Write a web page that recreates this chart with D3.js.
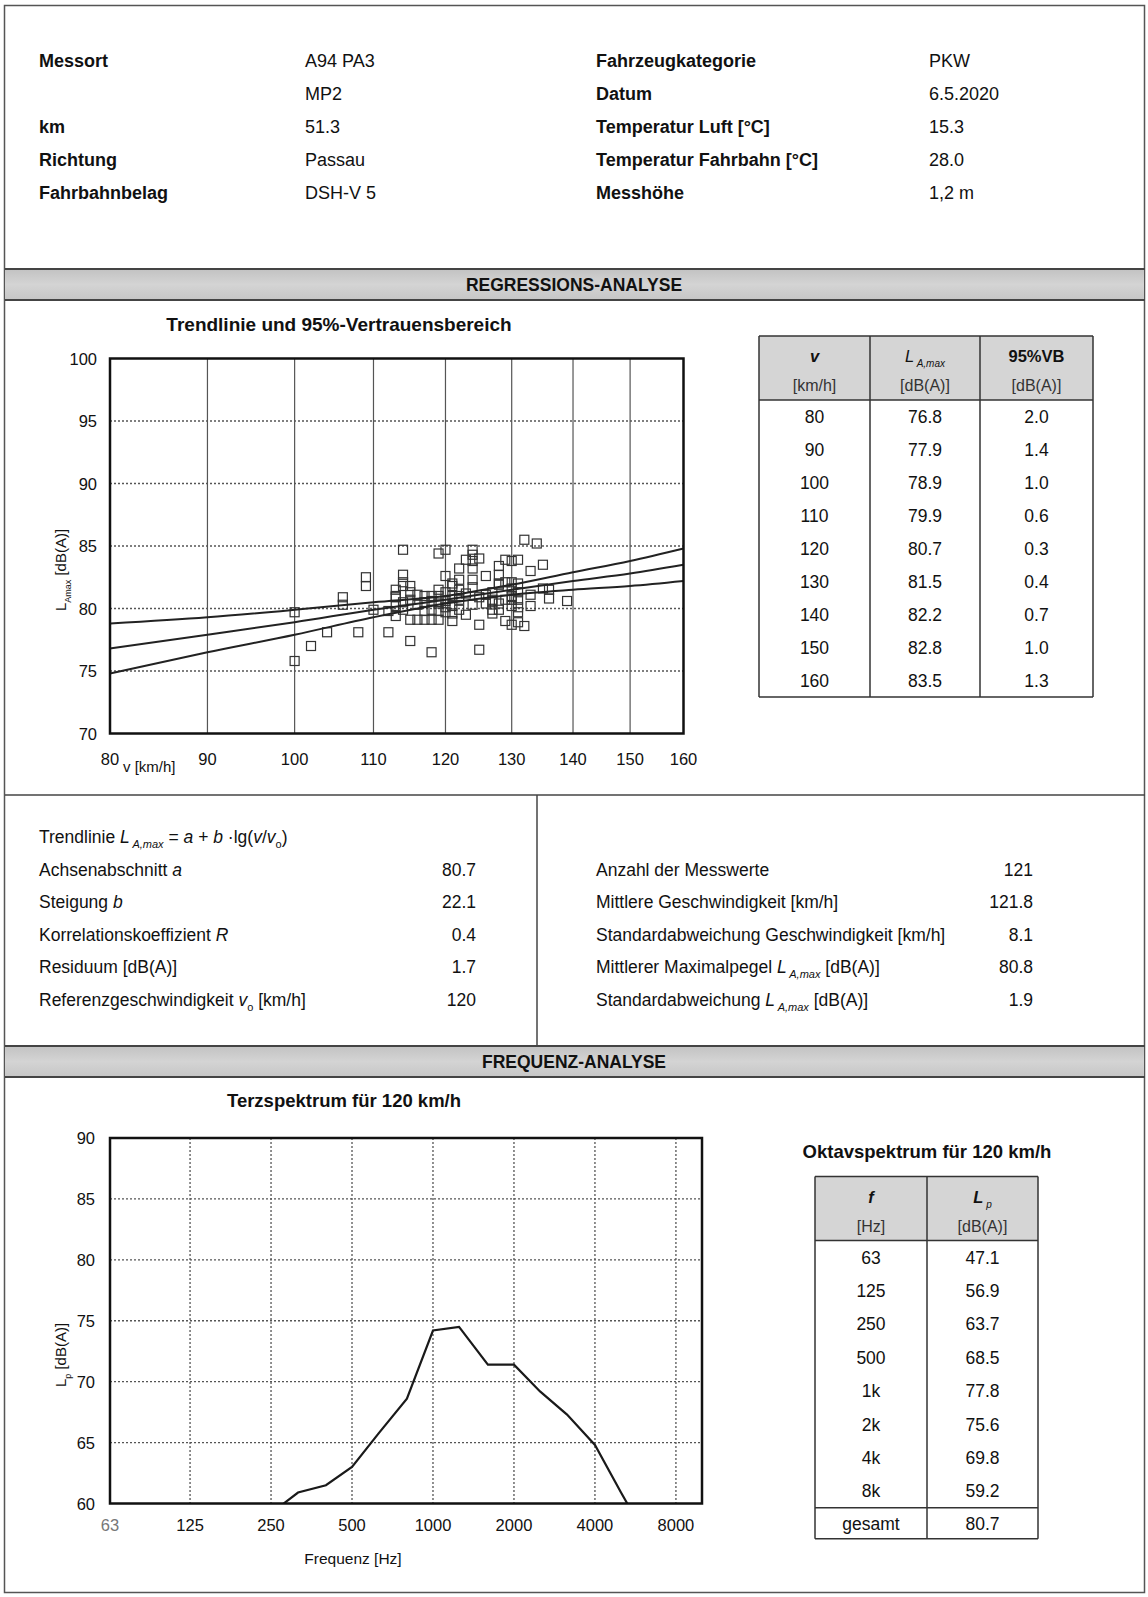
<!DOCTYPE html>
<html>
<head>
<meta charset="utf-8">
<script src="https://cdn.jsdelivr.net/npm/d3@7"></script>
<style>
body { margin: 0; background: #fff; }
svg text { font-family: "Liberation Sans", Arial, sans-serif; fill: #111; }
</style>
</head>
<body>
<div id="sheet"></div>
<script>
// header block
var infoLeftLabels = ["Messort", "", "km", "Richtung", "Fahrbahnbelag"];
var infoLeftValues = ["A94 PA3", "MP2", "51.3", "Passau", "DSH-V 5"];
var infoRightLabels = ["Fahrzeugkategorie", "Datum", "Temperatur Luft [°C]", "Temperatur Fahrbahn [°C]", "Messhöhe"];
var infoRightValues = ["PKW", "6.5.2020", "15.3", "28.0", "1,2 m"];

// single pass-bys (speed km/h, level dB(A))
var speeds = [100, 100, 102, 104, 106, 106, 108, 109, 109, 110,
  112, 112, 113, 113, 113, 113, 113, 114, 114, 114, 114, 114, 114,
  115, 115, 115, 115, 115, 116, 116, 116, 117, 117, 117, 117,
  118, 118, 118, 118, 118, 119, 119, 119, 119, 119, 119,
  120, 120, 120, 120, 120, 120, 121, 121, 121, 121, 121, 121,
  122, 122, 122, 122, 122, 122, 123, 123, 123,
  124, 124, 124, 124, 124, 124, 124, 125, 125, 125, 125, 126, 126, 126,
  127, 127, 127, 127, 127, 128, 128, 128, 128, 128, 128,
  129, 129, 129, 129, 130, 130, 130, 130, 130, 130, 130,
  131, 131, 131, 131, 131, 131, 131, 132, 132, 133, 133, 133, 134,
  135, 135, 136, 136, 139];
var levels = [79.7, 75.8, 77.0, 78.1, 80.9, 80.3, 78.1, 82.5, 81.8, 79.9,
  78.1, 79.8, 81.5, 81.0, 79.4, 80.2, 80.9, 84.7, 82.7, 82.1, 81.8, 80.5, 79.9,
  81.8, 80.7, 79.1, 77.4, 81.3, 81.1, 79.1, 80.3, 79.1, 80.5, 81.0, 79.8,
  76.5, 81.0, 79.9, 79.1, 80.6, 84.4, 81.0, 79.8, 79.1, 80.4, 81.5,
  84.7, 82.6, 81.3, 80.6, 79.7, 80.1, 81.8, 81.0, 80.2, 79.0, 82.0, 79.6,
  83.2, 82.3, 81.5, 80.7, 79.9, 81.0, 83.9, 79.5, 81.2,
  84.7, 84.3, 83.8, 83.2, 82.3, 80.3, 81.7, 84.0, 78.7, 76.7, 80.9, 82.6, 80.4, 81.1,
  80.7, 79.9, 79.6, 80.5, 81.3, 83.4, 82.7, 81.9, 80.4, 82.0, 79.9,
  83.9, 79.0, 82.1, 80.7, 83.8, 82.1, 81.0, 80.2, 80.7, 78.7, 81.6,
  83.9, 82.0, 81.3, 79.7, 78.9, 80.1, 80.7, 85.5, 78.6, 83.0, 81.1, 80.2, 85.2,
  83.5, 81.6, 80.8, 81.5, 80.6];

// regression table
var tableSpeeds = [80, 90, 100, 110, 120, 130, 140, 150, 160];
var tableLevels = [76.8, 77.9, 78.9, 79.9, 80.7, 81.5, 82.2, 82.8, 83.5];
var tableConf = [2.0, 1.4, 1.0, 0.6, 0.3, 0.4, 0.7, 1.0, 1.3];

var speedTicks = [80, 90, 100, 110, 120, 130, 140, 150, 160];
var levelTicks = [70, 75, 80, 85, 90, 95, 100];

// regression statistics
var statsLeftValues = ["80.7", "22.1", "0.4", "1.7", "120"];
var statsRightLabels = ["Anzahl der Messwerte", "Mittlere Geschwindigkeit [km/h]", "Standardabweichung Geschwindigkeit [km/h]"];
var statsRightValues = ["121", "121.8", "8.1", "80.8", "1.9"];

// third-octave spectrum at 120 km/h
var terzFreqs = [250, 315, 400, 500, 630, 800, 1000, 1250, 1600, 2000, 2500, 3150, 4000, 5000, 6300];
var terzLevels = [59.2, 60.9, 61.5, 63.0, 65.8, 68.6, 74.2, 74.5, 71.4, 71.4, 69.2, 67.3, 64.8, 60.9, 57.0];
var freqTicks = [63, 125, 250, 500, 1000, 2000, 4000, 8000];
var lpTicks = [60, 65, 70, 75, 80, 85, 90];

// octave spectrum
var octBands = ["63", "125", "250", "500", "1k", "2k", "4k", "8k"];
var octLevels = ["47.1", "56.9", "63.7", "68.5", "77.8", "75.6", "69.8", "59.2"];
var octTotal = "80.7";

var W = 1148, H = 1597;
var FS = 17.5;   // body text
var TK = 16.5;   // tick labels
var svg = d3.select("#sheet").append("svg")
  .attr("width", W)
  .attr("height", H);

// writes a text made of pieces: {t, i (italic), sub, b (bold)}
function rich(g, x, y, parts, size, anchor) {
  var t = g.append("text").attr("x", x).attr("y", y)
    .style("font-size", size + "px")
    .attr("text-anchor", anchor || "start");
  var shift = 0;
  parts.forEach(function(p) {
    var ts = t.append("tspan").text(p.t);
    var want = p.sub ? Math.round(size * 0.3) : 0;
    if (want != shift) { ts.attr("dy", want - shift); shift = want; }
    if (p.i) ts.style("font-style", "italic");
    if (p.b) ts.style("font-weight", "bold");
    if (p.sub) ts.style("font-size", Math.round(size * 0.62) + "px");
  });
  return t;
}

// page frame
svg.append("rect").attr("x", 4.5).attr("y", 5.5).attr("width", 1140).attr("height", 1587)
  .attr("fill", "none").attr("stroke", "#555").attr("stroke-width", 1.5);

// ---- header ----
var head = svg.append("g");
var rowY = d3.range(5).map(function(i) { return 66.5 + i * 33.1; });
head.selectAll(".l1").data(infoLeftLabels).enter().append("text")
  .attr("x", 39).attr("y", function(d, i) { return rowY[i]; })
  .style("font-size", "18px").style("font-weight", "bold").text(function(d) { return d; });
head.selectAll(".v1").data(infoLeftValues).enter().append("text")
  .attr("x", 305).attr("y", function(d, i) { return rowY[i]; })
  .style("font-size", "18px").text(function(d) { return d; });
head.selectAll(".l2").data(infoRightLabels).enter().append("text")
  .attr("x", 596).attr("y", function(d, i) { return rowY[i]; })
  .style("font-size", "18px").style("font-weight", "bold").text(function(d) { return d; });
head.selectAll(".v2").data(infoRightValues).enter().append("text")
  .attr("x", 929).attr("y", function(d, i) { return rowY[i]; })
  .style("font-size", "18px").text(function(d) { return d; });

// gray section bars
var grad = svg.append("defs").append("linearGradient").attr("id", "bar")
  .attr("x1", 0).attr("x2", 0).attr("y1", 0).attr("y2", 1);
grad.append("stop").attr("offset", "0%").attr("stop-color", "#c2c2c2");
grad.append("stop").attr("offset", "50%").attr("stop-color", "#d4d4d4");
grad.append("stop").attr("offset", "100%").attr("stop-color", "#c6c6c6");

function sectionBar(y0, y1, label) {
  svg.append("rect").attr("x", 5).attr("y", y0).attr("width", 1139).attr("height", y1 - y0)
    .attr("fill", "url(#bar)");
  svg.append("line").attr("x1", 5).attr("x2", 1145).attr("y1", y0).attr("y2", y0)
    .attr("stroke", "#444").attr("stroke-width", 2);
  svg.append("line").attr("x1", 5).attr("x2", 1145).attr("y1", y1).attr("y2", y1)
    .attr("stroke", "#444").attr("stroke-width", 2);
  svg.append("text").attr("x", 574).attr("y", (y0 + y1) / 2 + 6)
    .attr("text-anchor", "middle").style("font-size", "17.5px").style("font-weight", "bold")
    .text(label);
}
sectionBar(269, 300, "REGRESSIONS-ANALYSE");
sectionBar(1046, 1077, "FREQUENZ-ANALYSE");

// ---- scatter with trend line ----
var sx = d3.scaleLog().domain([80, 160]).range([110, 683.5]);
var sy = d3.scaleLinear().domain([70, 100]).range([733.5, 358.5]);

svg.append("text").attr("x", 339).attr("y", 331).attr("text-anchor", "middle")
  .style("font-size", "19px").style("font-weight", "bold")
  .text("Trendlinie und 95%-Vertrauensbereich");

var sc = svg.append("g");
sc.selectAll(".vg").data(speedTicks.slice(1, -1)).enter().append("line")
  .attr("x1", function(d) { return sx(d); }).attr("x2", function(d) { return sx(d); })
  .attr("y1", sy(100)).attr("y2", sy(70))
  .attr("stroke", "#555").attr("stroke-width", 1.2);
sc.selectAll(".hg").data(levelTicks.slice(1, -1)).enter().append("line")
  .attr("x1", sx(80)).attr("x2", sx(160))
  .attr("y1", function(d) { return sy(d); }).attr("y2", function(d) { return sy(d); })
  .attr("stroke", "#555").attr("stroke-width", 1.3).attr("stroke-dasharray", "2,2");

// measured points as open squares
var pts = speeds.map(function(v, i) { return { v: v, l: levels[i] }; });
sc.selectAll(".pt").data(pts).enter().append("rect")
  .attr("x", function(d) { return sx(d.v) - 4.5; })
  .attr("y", function(d) { return sy(d.l) - 4.5; })
  .attr("width", 9).attr("height", 9)
  .attr("fill", "none").attr("stroke", "#333").attr("stroke-width", 1.2);

// trend line and 95% band
var rows = tableSpeeds.map(function(v, i) { return { v: v, l: tableLevels[i], c: tableConf[i] }; });
var trendSets = [
  function(d) { return d.l + d.c; },
  function(d) { return d.l; },
  function(d) { return d.l - d.c; }
];
trendSets.forEach(function(f) {
  sc.append("path").datum(rows)
    .attr("d", d3.line().x(function(d) { return sx(d.v); }).y(function(d) { return sy(f(d)); })
      .curve(d3.curveMonotoneX))
    .attr("fill", "none").attr("stroke", "#222").attr("stroke-width", 2);
});

sc.append("rect").attr("x", sx(80)).attr("y", sy(100))
  .attr("width", sx(160) - sx(80)).attr("height", sy(70) - sy(100))
  .attr("fill", "none").attr("stroke", "#111").attr("stroke-width", 2.5);

sc.selectAll(".yt").data(levelTicks).enter().append("text")
  .attr("x", 97).attr("y", function(d) { return sy(d) + 6; })
  .attr("text-anchor", "end").style("font-size", TK + "px").text(function(d) { return d; });
sc.selectAll(".xt").data(speedTicks).enter().append("text")
  .attr("x", function(d) { return sx(d); }).attr("y", 765)
  .attr("text-anchor", "middle").style("font-size", TK + "px").text(function(d) { return d; });
sc.append("text").attr("x", 123).attr("y", 772).style("font-size", "15px").text("v [km/h]");

var ylab = sc.append("g").attr("transform", "translate(66,570) rotate(-90)");
rich(ylab, 0, 0, [{ t: "L" }, { t: "Amax", sub: true }, { t: " [dB(A)]" }], 15, "middle");

// regression table
var t1 = svg.append("g");
var t1x = [759, 870, 980, 1093];
var t1Top = 336, t1Head = 400, t1Row = 33;
t1.append("rect").attr("x", t1x[0]).attr("y", t1Top).attr("width", t1x[3] - t1x[0])
  .attr("height", t1Head - t1Top).attr("fill", "#d5d5d5");
var t1Mid = function(c) { return (t1x[c] + t1x[c + 1]) / 2; };
rich(t1, t1Mid(0), 362, [{ t: "v", i: true, b: true }], 16.5, "middle");
rich(t1, t1Mid(1), 362, [{ t: "L", i: true }, { t: " A,max", i: true, sub: true }], 16.5, "middle");
rich(t1, t1Mid(2), 362, [{ t: "95%VB", b: true }], 16.5, "middle");
["[km/h]", "[dB(A)]", "[dB(A)]"].forEach(function(s, c) {
  t1.append("text").attr("x", t1Mid(c)).attr("y", 391).attr("text-anchor", "middle")
    .style("font-size", "16px").style("fill", "#333").text(s);
});
var t1Cols = [tableSpeeds.map(String), tableLevels.map(function(d) { return d.toFixed(1); }),
  tableConf.map(function(d) { return d.toFixed(1); })];
t1Cols.forEach(function(col, c) {
  t1.selectAll(".c" + c).data(col).enter().append("text")
    .attr("x", t1Mid(c)).attr("y", function(d, i) { return t1Head + t1Row * i + 23; })
    .attr("text-anchor", "middle").style("font-size", FS + "px").text(function(d) { return d; });
});
var t1Bottom = t1Head + t1Row * tableSpeeds.length;
t1x.forEach(function(x) {
  t1.append("line").attr("x1", x).attr("x2", x).attr("y1", t1Top).attr("y2", t1Bottom)
    .attr("stroke", "#333").attr("stroke-width", 1.5);
});
[t1Top, t1Head, t1Bottom].forEach(function(y) {
  t1.append("line").attr("x1", t1x[0]).attr("x2", t1x[3]).attr("y1", y).attr("y2", y)
    .attr("stroke", "#333").attr("stroke-width", 1.5);
});

// ---- statistics block ----
svg.append("line").attr("x1", 5).attr("x2", 1145).attr("y1", 795).attr("y2", 795)
  .attr("stroke", "#444").attr("stroke-width", 1.5);
svg.append("line").attr("x1", 537).attr("x2", 537).attr("y1", 795).attr("y2", 1046)
  .attr("stroke", "#444").attr("stroke-width", 1.5);

var st = svg.append("g");
var stY = d3.range(5).map(function(i) { return 876 + i * 32.4; });
rich(st, 39, 843, [{ t: "Trendlinie  " }, { t: "L", i: true }, { t: " A,max", i: true, sub: true },
  { t: " = " }, { t: "a", i: true }, { t: " + " }, { t: "b", i: true }, { t: " ·lg(" },
  { t: "v", i: true }, { t: "/" }, { t: "v", i: true }, { t: "o", sub: true }, { t: ")" }], FS);
var statsLeftLabels = [
  [{ t: "Achsenabschnitt " }, { t: "a", i: true }],
  [{ t: "Steigung " }, { t: "b", i: true }],
  [{ t: "Korrelationskoeffizient " }, { t: "R", i: true }],
  [{ t: "Residuum [dB(A)]" }],
  [{ t: "Referenzgeschwindigkeit " }, { t: "v", i: true }, { t: "o", sub: true }, { t: " [km/h]" }]
];
statsLeftLabels.forEach(function(p, i) { rich(st, 39, stY[i], p, FS); });
st.selectAll(".sv1").data(statsLeftValues).enter().append("text")
  .attr("x", 476).attr("y", function(d, i) { return stY[i]; })
  .attr("text-anchor", "end").style("font-size", FS + "px").text(function(d) { return d; });
var rightRich = statsRightLabels.map(function(s) { return [{ t: s }]; }).concat([
  [{ t: "Mittlerer Maximalpegel " }, { t: "L", i: true }, { t: " A,max", i: true, sub: true }, { t: "  [dB(A)]" }],
  [{ t: "Standardabweichung " }, { t: "L", i: true }, { t: " A,max", i: true, sub: true }, { t: "  [dB(A)]" }]
]);
rightRich.forEach(function(p, i) { rich(st, 596, stY[i], p, FS); });
st.selectAll(".sv2").data(statsRightValues).enter().append("text")
  .attr("x", 1033).attr("y", function(d, i) { return stY[i]; })
  .attr("text-anchor", "end").style("font-size", FS + "px").text(function(d) { return d; });

// ---- third-octave spectrum ----
var fx = d3.scaleLog().domain([63, 10000]).range([110, 702]);
var fy = d3.scaleLinear().domain([60, 90]).range([1503.5, 1138]);

svg.append("text").attr("x", 344).attr("y", 1107).attr("text-anchor", "middle")
  .style("font-size", "18.5px").style("font-weight", "bold").text("Terzspektrum für 120 km/h");

var fc = svg.append("g");
fc.selectAll(".vg").data(freqTicks.slice(1)).enter().append("line")
  .attr("x1", function(d) { return fx(d); }).attr("x2", function(d) { return fx(d); })
  .attr("y1", fy(90)).attr("y2", fy(60))
  .attr("stroke", "#555").attr("stroke-width", 1.3).attr("stroke-dasharray", "2,2");
fc.selectAll(".hg").data(lpTicks.slice(1, -1)).enter().append("line")
  .attr("x1", fx(63)).attr("x2", fx(10000))
  .attr("y1", function(d) { return fy(d); }).attr("y2", function(d) { return fy(d); })
  .attr("stroke", "#555").attr("stroke-width", 1.3).attr("stroke-dasharray", "2,2");

var clip = svg.select("defs").append("clipPath").attr("id", "fclip");
clip.append("rect").attr("x", fx(63)).attr("y", fy(90))
  .attr("width", fx(10000) - fx(63)).attr("height", fy(60) - fy(90));
var terz = terzFreqs.map(function(f, i) { return { f: f, l: terzLevels[i] }; });
fc.append("path").datum(terz).attr("clip-path", "url(#fclip)")
  .attr("d", d3.line().x(function(d) { return fx(d.f); }).y(function(d) { return fy(d.l); }))
  .attr("fill", "none").attr("stroke", "#1a1a1a").attr("stroke-width", 2.2);

fc.append("rect").attr("x", fx(63)).attr("y", fy(90))
  .attr("width", fx(10000) - fx(63)).attr("height", fy(60) - fy(90))
  .attr("fill", "none").attr("stroke", "#111").attr("stroke-width", 2.5);

fc.selectAll(".yt").data(lpTicks).enter().append("text")
  .attr("x", 95).attr("y", function(d) { return fy(d) + 6; })
  .attr("text-anchor", "end").style("font-size", TK + "px").text(function(d) { return d; });
fc.selectAll(".xt").data(freqTicks).enter().append("text")
  .attr("x", function(d) { return fx(d); }).attr("y", 1531)
  .attr("text-anchor", "middle").style("font-size", TK + "px")
  .style("fill", function(d) { return d == 63 ? "#777" : "#111"; })
  .text(function(d) { return d; });
fc.append("text").attr("x", 353).attr("y", 1564).attr("text-anchor", "middle")
  .style("font-size", "15.5px").text("Frequenz [Hz]");
var flab = fc.append("g").attr("transform", "translate(66,1355) rotate(-90)");
rich(flab, 0, 0, [{ t: "L" }, { t: "p", sub: true }, { t: " [dB(A)]" }], 15, "middle");

// ---- octave table ----
svg.append("text").attr("x", 927).attr("y", 1158).attr("text-anchor", "middle")
  .style("font-size", "18.5px").style("font-weight", "bold").text("Oktavspektrum für 120 km/h");

var t2 = svg.append("g");
var t2x = [815, 927, 1038];
var t2Top = 1176.5, t2Head = 1240.5, t2Row = 33.4;
var t2Sum = t2Head + t2Row * octBands.length, t2Bottom = t2Sum + 31;
t2.append("rect").attr("x", t2x[0]).attr("y", t2Top).attr("width", t2x[2] - t2x[0])
  .attr("height", t2Head - t2Top).attr("fill", "#d5d5d5");
var t2Mid = function(c) { return (t2x[c] + t2x[c + 1]) / 2; };
rich(t2, t2Mid(0), 1203, [{ t: "f", i: true, b: true }], 16.5, "middle");
rich(t2, t2Mid(1), 1203, [{ t: "L", i: true, b: true }, { t: " p", i: true, sub: true }], 16.5, "middle");
["[Hz]", "[dB(A)]"].forEach(function(s, c) {
  t2.append("text").attr("x", t2Mid(c)).attr("y", 1232).attr("text-anchor", "middle")
    .style("font-size", "16px").style("fill", "#333").text(s);
});
[octBands, octLevels].forEach(function(col, c) {
  t2.selectAll(".c" + c).data(col).enter().append("text")
    .attr("x", t2Mid(c)).attr("y", function(d, i) { return t2Head + t2Row * i + 23; })
    .attr("text-anchor", "middle").style("font-size", FS + "px").text(function(d) { return d; });
});
t2.append("text").attr("x", t2Mid(0)).attr("y", t2Sum + 22).attr("text-anchor", "middle")
  .style("font-size", FS + "px").text("gesamt");
t2.append("text").attr("x", t2Mid(1)).attr("y", t2Sum + 22).attr("text-anchor", "middle")
  .style("font-size", FS + "px").text(octTotal);
t2x.forEach(function(x) {
  t2.append("line").attr("x1", x).attr("x2", x).attr("y1", t2Top).attr("y2", t2Bottom)
    .attr("stroke", "#333").attr("stroke-width", 1.5);
});
[t2Top, t2Head, t2Sum, t2Bottom].forEach(function(y) {
  t2.append("line").attr("x1", t2x[0]).attr("x2", t2x[2]).attr("y1", y).attr("y2", y)
    .attr("stroke", "#333").attr("stroke-width", 1.5);
});
</script>
</body>
</html>
